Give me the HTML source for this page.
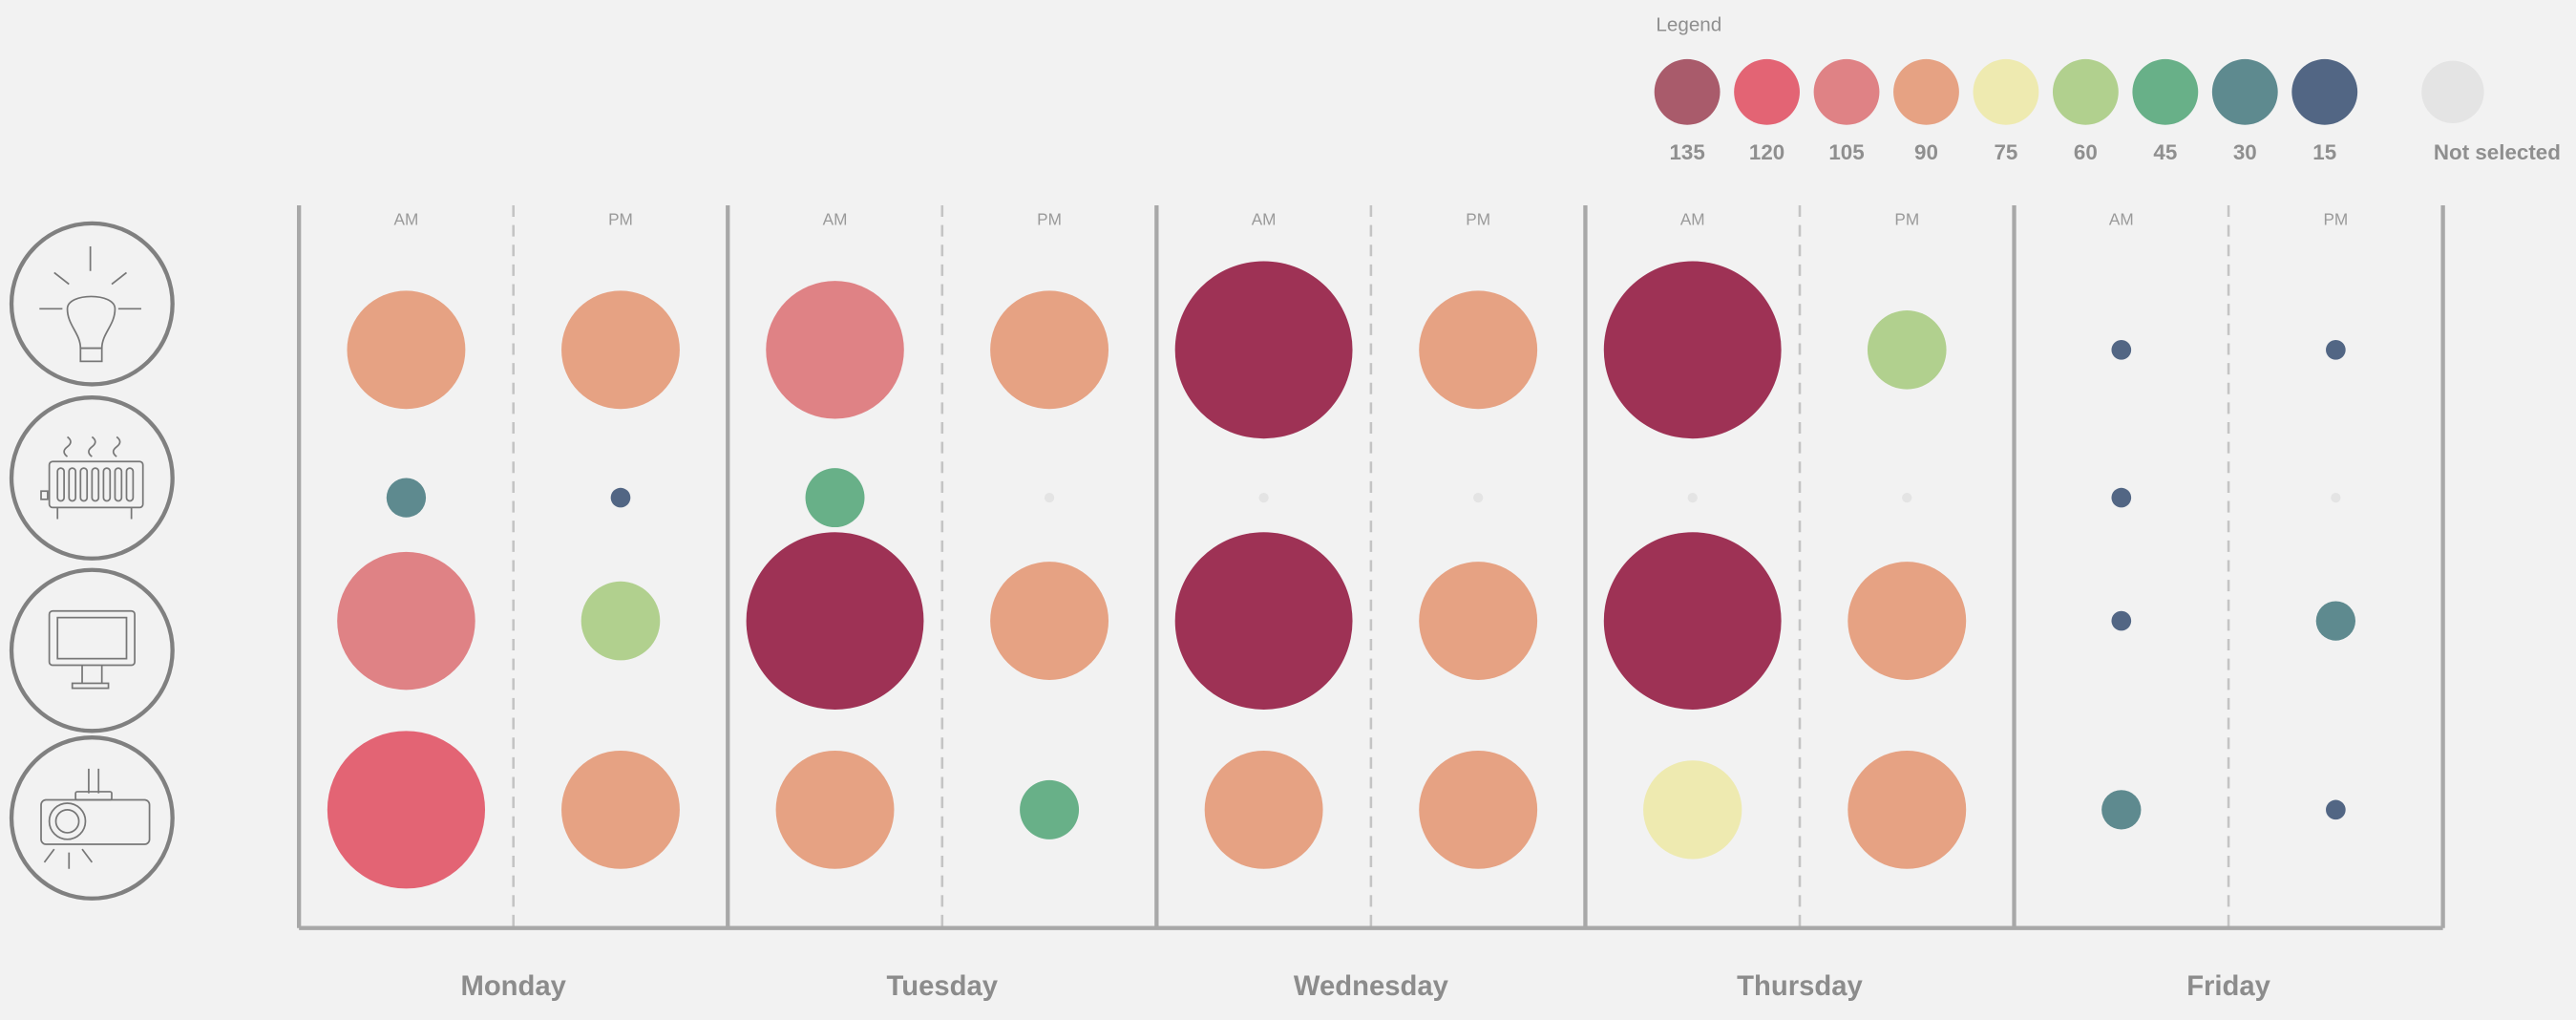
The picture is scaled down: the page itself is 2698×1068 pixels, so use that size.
<!DOCTYPE html>
<html><head><meta charset="utf-8"><style>
html,body{margin:0;padding:0;background:#f2f2f2;}
svg{display:block;font-family:"Liberation Sans",sans-serif;}
</style></head><body>
<svg id="chart" width="2698" height="1068" viewBox="0 0 1568 621" preserveAspectRatio="none" xmlns="http://www.w3.org/2000/svg">
<rect width="1568" height="621" fill="#f2f2f2"/>
<g id="legend">
<text x="1008" y="19" font-size="12" fill="#8f8f8f">Legend</text>
</g>
<g id="icons" fill="none" stroke="#777" stroke-width="1">
<g>
<circle cx="56" cy="185" r="49" stroke="#808080" stroke-width="2.5"/>
<line x1="55" y1="150" x2="55" y2="165"/><line x1="33" y1="166" x2="42" y2="173"/><line x1="68" y1="173" x2="77" y2="166"/>
<line x1="24" y1="188" x2="38" y2="188"/><line x1="72" y1="188" x2="86" y2="188"/>
<path d="M49,212 C49,203 41,198 41,188 C41,178 70,178 70,188 C70,198 62,203 62,212 Z"/>
<rect x="49" y="212" width="13" height="8"/>
</g>
<g>
<circle cx="56" cy="291" r="49" stroke="#808080" stroke-width="2.5"/>
<path d="M41,266 q4,3 0,6 q-4,3 0,6 M56,266 q4,3 0,6 q-4,3 0,6 M71,266 q4,3 0,6 q-4,3 0,6"/>
<rect x="30" y="281" width="57" height="28" rx="2"/>
<rect x="35" y="285" width="4" height="20" rx="2"/><rect x="42" y="285" width="4" height="20" rx="2"/><rect x="49" y="285" width="4" height="20" rx="2"/><rect x="56" y="285" width="4" height="20" rx="2"/><rect x="63" y="285" width="4" height="20" rx="2"/><rect x="70" y="285" width="4" height="20" rx="2"/><rect x="77" y="285" width="4" height="20" rx="2"/>
<path d="M35,309 v7 M80,309 v7"/><rect x="25" y="299" width="4" height="5"/>
</g>
<g>
<circle cx="56" cy="396" r="49" stroke="#808080" stroke-width="2.5"/>
<rect x="30" y="372" width="52" height="33" rx="2"/><rect x="35" y="376" width="42" height="25"/>
<path d="M50,405 v11 M62,405 v11"/><rect x="44" y="416" width="22" height="3"/>
</g>
<g>
<circle cx="56" cy="498" r="49" stroke="#808080" stroke-width="2.5"/>
<path d="M54,468 v15 M60,468 v15"/><rect x="46" y="482" width="22" height="5" rx="1"/>
<rect x="25" y="487" width="66" height="27" rx="3"/><circle cx="41" cy="500" r="11"/><circle cx="41" cy="500" r="7"/>
<path d="M33,517 l-6,8 M42,519 v10 M50,517 l6,8"/>
</g>
</g>
<g id="grid"></g>
<g id="bubbles"></g>
</svg>
<script>
const days = ["Monday","Tuesday","Wednesday","Thursday","Friday"];
const periods = ["AM","PM"];
const devices = ["lightbulb","heater","monitor","projector"];
const lightValues = [90,90,105,90,135,90,135,60,15,15];
const heaterValues = [30,15,45,0,0,0,0,0,15,0];
const monitorValues = [105,60,135,90,135,90,135,90,15,30];
const projectorValues = [120,90,90,45,90,90,75,90,30,15];
const legendValues = [135,120,105,90,75,60,45,30,15];

const NS="http://www.w3.org/2000/svg";
const colors={135:"#9e3255",120:"#e36474",105:"#df8285",90:"#e6a283",75:"#eeeab0",60:"#b1d08e",45:"#68b088",30:"#5e8a8f",15:"#526684"};
const legendColors={135:"#a95b6b",120:"#e36474",105:"#df8285",90:"#e6a283",75:"#eeeab0",60:"#b1d08e",45:"#68b088",30:"#5e8a8f",15:"#526684"};
const x0=182, dayW=261, yTop=125, yBottom=565;
const rowY=[213,303,378,493];
function xPos(i){return x0+dayW*Math.floor(i/2)+dayW/4+(i%2)*dayW/2;}
function rScale(v){return v>0?v*0.4:3;}
function mk(tag,attrs,parent){const e=document.createElementNS(NS,tag);for(const k in attrs)e.setAttribute(k,attrs[k]);parent.appendChild(e);return e;}
const grid=document.getElementById('grid');
for(let d=0;d<=days.length;d++){
  const x=x0+d*dayW;
  const l=mk('line',{x1:x,y1:yTop,x2:x,y2:yBottom,stroke:'#a8a8a8','stroke-width':2.5},grid);
  
  
  if(d<days.length){
    const dl=mk('line',{x1:x+dayW/2,y1:yTop,x2:x+dayW/2,y2:yBottom,stroke:'#c4c4c4','stroke-width':1.5,'stroke-dasharray':'7,5'},grid);
    
    
    const t=mk('text',{x:x+dayW/2,y:606,'text-anchor':'middle','font-size':17,'font-weight':'bold',fill:'#8c8c8c'},grid);
    t.textContent=days[d];
    
    
    for(let p=0;p<2;p++){
      const pt=mk('text',{x:xPos(d*2+p),y:137,'text-anchor':'middle','font-size':10,fill:'#9a9a9a'},grid);
      pt.textContent=periods[p];
      
      
    }
  }
}
const ax=mk('line',{x1:x0,y1:yBottom,x2:x0+dayW*5,y2:yBottom,stroke:'#a8a8a8','stroke-width':2.5},grid);


const bub=document.getElementById('bubbles');
const series=[lightValues,heaterValues,monitorValues,projectorValues];
series.forEach((vals,r)=>{
  vals.forEach((v,i)=>{
    const c=mk('circle',{cx:xPos(i),cy:rowY[r],r:rScale(v),fill:v>0?colors[v]:'#e4e4e4'},bub);
    
    
  });
});
const lg=document.getElementById('legend');
legendValues.forEach((v,i)=>{
  const cx=1027+i*48.5;
  const c=mk('circle',{cx:cx,cy:56,r:20,fill:legendColors[v]},lg);
  
  
  const t=mk('text',{x:cx,y:97,'text-anchor':'middle','font-size':13,'font-weight':'bold',fill:'#8f8f8f'},lg);
  t.textContent=v;
  
  
});
const ns=mk('circle',{cx:1493,cy:56,r:19,fill:'#e4e4e4'},lg);


const nt=mk('text',{x:1520,y:97,'text-anchor':'middle','font-size':13,'font-weight':'bold',fill:'#8f8f8f'},lg);
nt.textContent='Not selected';


</script>
</body></html>
